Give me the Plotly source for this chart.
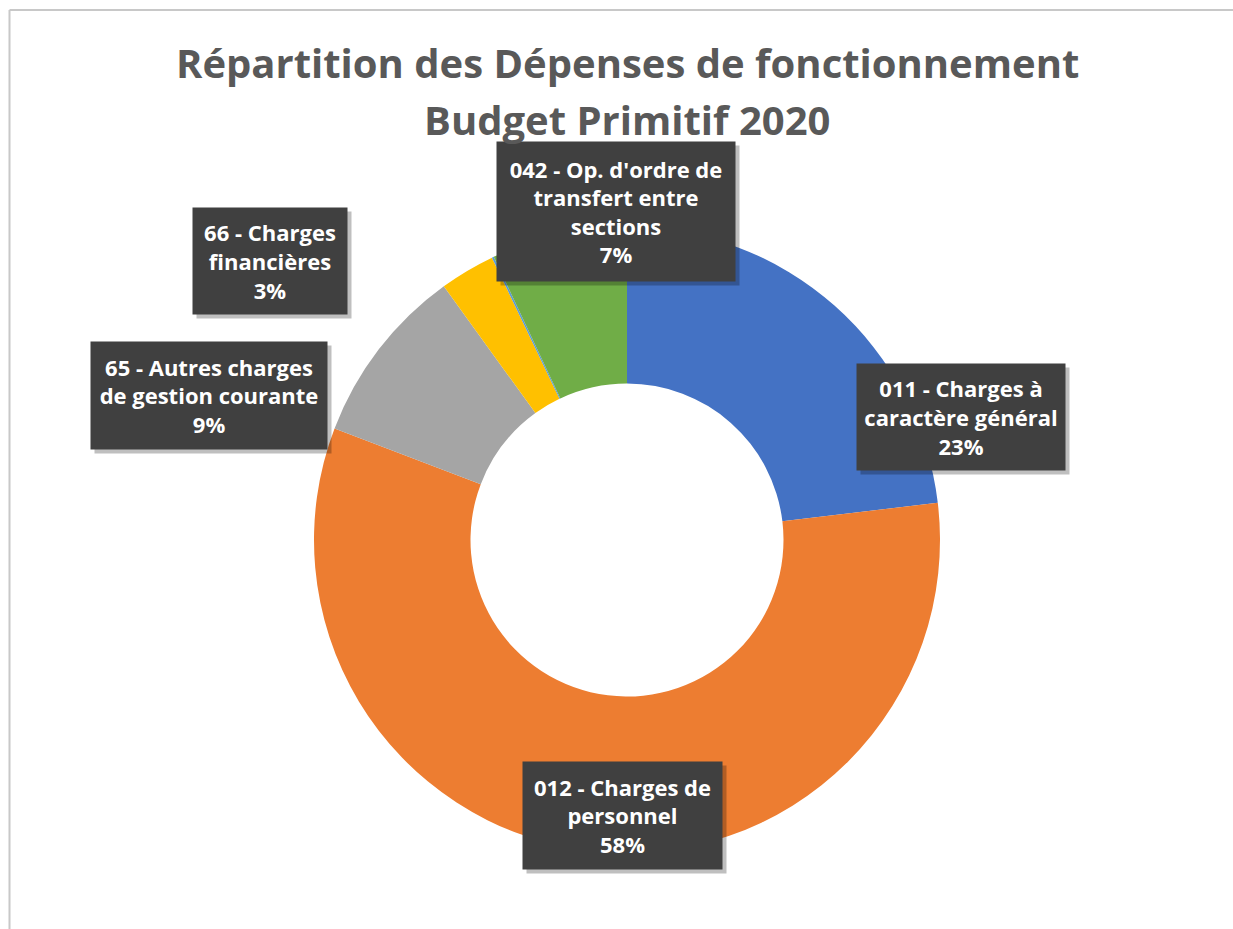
import textwrap
import plotly.graph_objects as go

# ---- data ----
categories = [
    "011 - Charges à caractère général",
    "012 - Charges de personnel",
    "65 - Autres charges de gestion courante",
    "66 - Charges financières",
    "67 - Charges exceptionnelles",
    "042 - Op. d'ordre de transfert entre sections",
]
values = [23.1, 57.7, 9.25, 2.85, 0.1, 7.0]
colors = ["#4472C4", "#ED7D31", "#A5A5A5", "#FFC000", "#5B9BD5", "#70AD47"]
show_label = [True, True, True, True, False, True]

title_lines = ["Répartition des Dépenses de fonctionnement", "Budget Primitif 2020"]

# ---- layout constants (pixels in 1233x929 canvas) ----
W, H = 1233, 929
cx, cy, R = 627, 540, 313
label_pos_px = [(961, 417), (622, 815), (209, 396), (270, 261), None, (616, 212)]
label_box_px = [(208, 106), (199, 107), (236, 107), (154, 106), None, (238, 139)]

fig = go.Figure()
fig.add_trace(go.Pie(
    labels=categories,
    values=values,
    sort=False,
    direction="clockwise",
    rotation=0,
    hole=0.5,
    marker=dict(colors=colors, line=dict(width=0)),
    textinfo="none",
    hovertemplate="%{label}<br>%{percent:.0%}<extra></extra>",
    domain=dict(x=[(cx - R) / W, (cx + R) / W], y=[(H - cy - R) / H, (H - cy + R) / H]),
    showlegend=False,
))

total = sum(values)
annotations = []
for cat, v, show, pos, box in zip(categories, values, show_label, label_pos_px, label_box_px):
    if not show or pos is None:
        continue
    pct = round(v / total * 100)
    text = "<br>".join(textwrap.wrap(cat, 20) + [f"{pct}%"])
    x, y = pos[0] / W, 1 - pos[1] / H
    common = dict(x=x, y=y, xref="paper", yref="paper", showarrow=False,
                  xanchor="center", yanchor="middle", borderpad=0,
                  width=box[0], height=box[1], valign="middle", align="center")
    # shadow box
    annotations.append(dict(
        **common, text=" ",
        font=dict(family="Open Sans", size=22, color="rgba(0,0,0,0)"),
        bgcolor="rgba(0,0,0,0.25)", xshift=4, yshift=-4,
    ))
    annotations.append(dict(
        **common, text=text,
        font=dict(family="Open Sans", size=22, color="#FFFFFF", weight=700),
        bgcolor="#404040",
    ))

# title lines
for line, center_py in zip(title_lines, [62, 119]):
    annotations.append(dict(
        x=627 / W, y=1 - center_py / H, xref="paper", yref="paper",
        text=line, showarrow=False, xanchor="center", yanchor="middle",
        font=dict(family="Open Sans", size=40, color="#595959", weight=700),
    ))

fig.update_layout(
    width=W, height=H,
    margin=dict(l=0, r=0, t=0, b=0),
    paper_bgcolor="white",
    plot_bgcolor="white",
    annotations=annotations,
    shapes=[
        dict(type="line", xref="paper", yref="paper",
             x0=9.5 / W, x1=1.01, y0=1 - 10 / H, y1=1 - 10 / H,
             line=dict(color="#C8C8C8", width=2)),
        dict(type="line", xref="paper", yref="paper",
             x0=9.5 / W, x1=9.5 / W, y0=-0.01, y1=1 - 10 / H,
             line=dict(color="#C8C8C8", width=2)),
    ],
)

fig.write_html("out.html", config={"displayModeBar": False},
               post_script="document.body.style.margin='0';")
